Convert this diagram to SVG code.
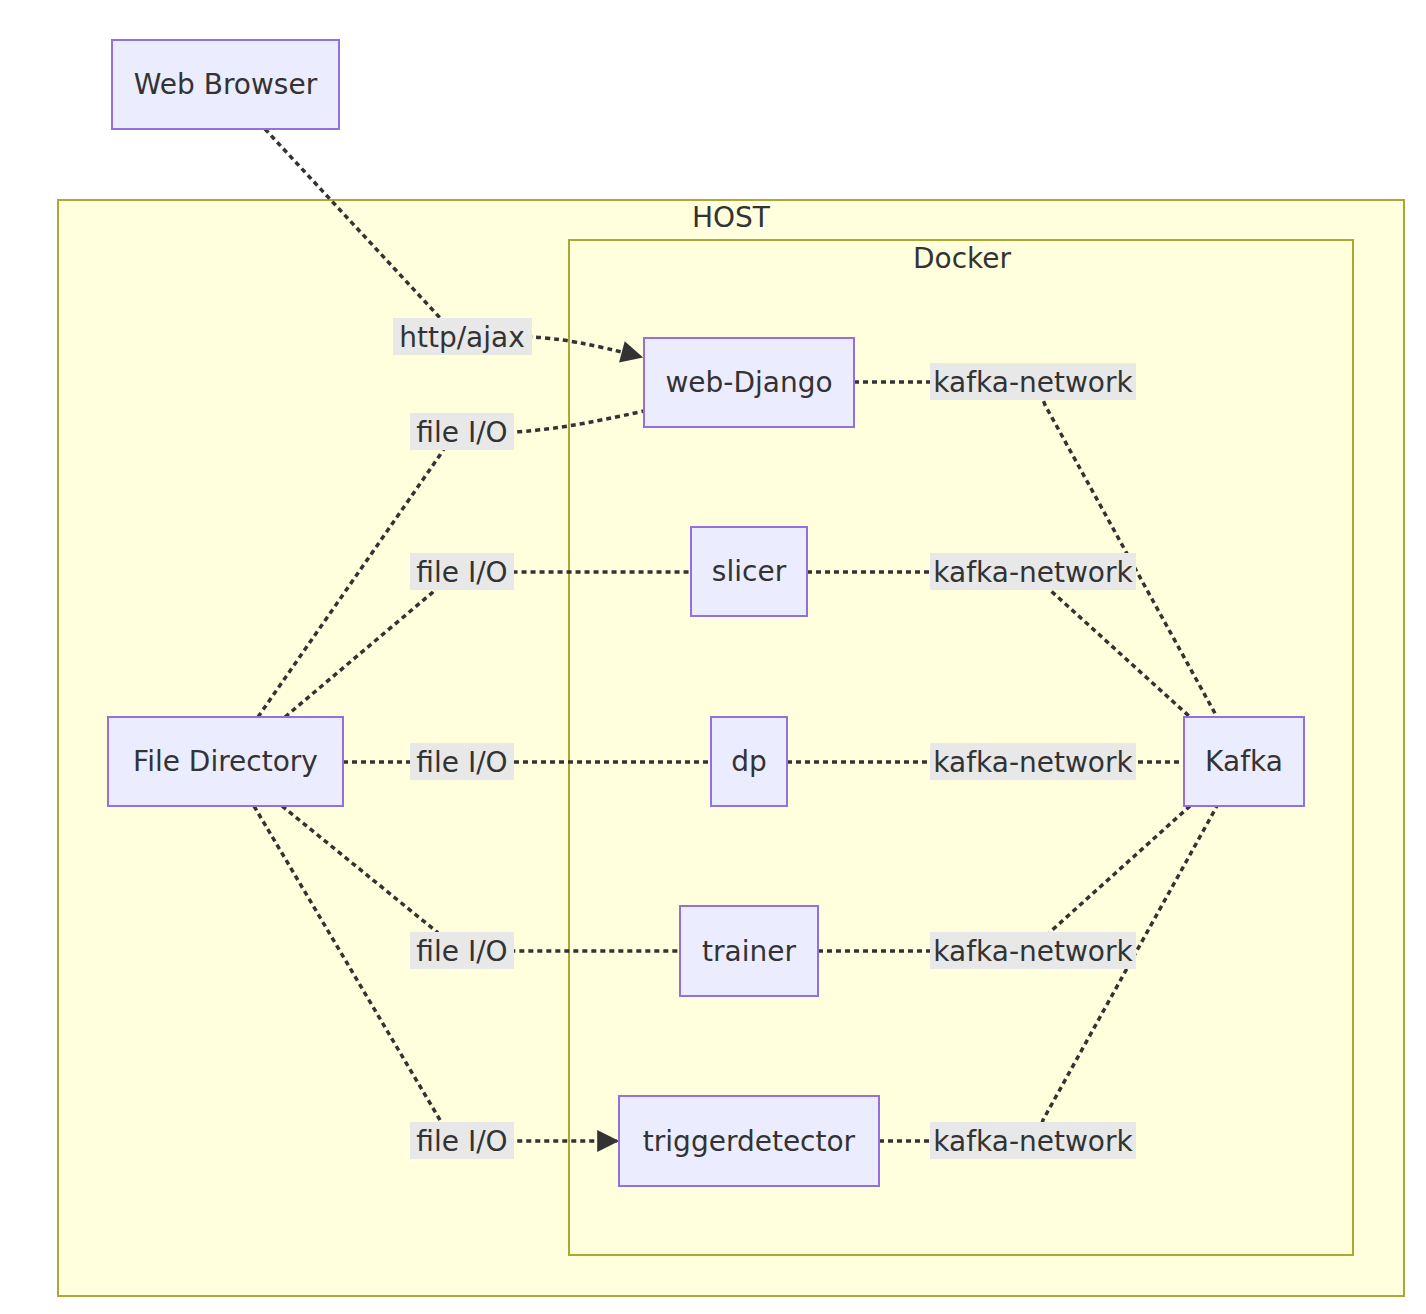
<svg xmlns="http://www.w3.org/2000/svg" width="1426" height="1314" viewBox="0 0 1426 1314">
<style>
.cluster{fill:#ffffde;stroke:#aaaa33;stroke-width:2}
.node rect{fill:#ececff;stroke:#9370db;stroke-width:2}
text{font-family:"DejaVu Sans",Verdana,sans-serif;font-size:28px;fill:#333;text-anchor:middle;dominant-baseline:central}
.edge{fill:none;stroke:#333;stroke-width:3.5;stroke-dasharray:5 4}
.lbl rect{fill:#e8e8e8}
</style>
<defs>
<marker id="arrow" viewBox="0 0 10 10" refX="9" refY="5" markerWidth="24" markerHeight="22" markerUnits="userSpaceOnUse" orient="auto">
<path d="M0,0 L10,5 L0,10 z" fill="#333"/>
</marker>
</defs>
<rect width="1426" height="1314" fill="#fff"/>
<g id="cluster-host">
<rect class="cluster" x="58" y="200" width="1346" height="1096"/>
<text x="731" y="217">HOST</text>
</g>
<g id="cluster-docker">
<rect class="cluster" x="569" y="240" width="784" height="1015"/>
<text x="962" y="258">Docker</text>
</g>
<g id="edges">
<path class="edge" d="M265,129 L442,320 Q455,337 480,337 L530,337 Q570,338 641,357" marker-end="url(#arrow)"/>
<path class="edge" d="M258,717 L440,455 Q452,432 480,432 L514,432 Q560,430 644,411"/>
<path class="edge" d="M285,717 L433,592 Q450,572 480,572 L691,572"/>
<path class="edge" d="M343,762 L711,762"/>
<path class="edge" d="M282,806 L437,932 Q450,951 480,951 L680,951"/>
<path class="edge" d="M254,806 L440,1120 Q450,1141 480,1141 L617,1141" marker-end="url(#arrow)"/>
<path class="edge" d="M854,382 L1020,382 Q1038,384 1045,405 L1217,717"/>
<path class="edge" d="M807,572 L1020,572 Q1040,572 1050,590 L1190,717"/>
<path class="edge" d="M787,762 L1184,762"/>
<path class="edge" d="M818,951 L1020,951 Q1040,951 1050,932 L1190,806"/>
<path class="edge" d="M879,1141 L1020,1141 Q1038,1139 1043,1120 L1217,806"/>
</g>
<g id="edge-labels">
<g class="lbl"><rect x="393" y="318" width="139" height="37"/><text x="462" y="337">http/ajax</text></g>
<g class="lbl"><rect x="410" y="413" width="104" height="37"/><text x="462" y="432">file I/O</text></g>
<g class="lbl"><rect x="410" y="553" width="104" height="37"/><text x="462" y="572">file I/O</text></g>
<g class="lbl"><rect x="410" y="743" width="104" height="37"/><text x="462" y="762">file I/O</text></g>
<g class="lbl"><rect x="410" y="932" width="104" height="37"/><text x="462" y="951">file I/O</text></g>
<g class="lbl"><rect x="410" y="1122" width="104" height="37"/><text x="462" y="1141">file I/O</text></g>
<g class="lbl"><rect x="930" y="363" width="206" height="37"/><text x="1033" y="382">kafka-network</text></g>
<g class="lbl"><rect x="930" y="553" width="206" height="37"/><text x="1033" y="572">kafka-network</text></g>
<g class="lbl"><rect x="930" y="743" width="206" height="37"/><text x="1033" y="762">kafka-network</text></g>
<g class="lbl"><rect x="930" y="932" width="206" height="37"/><text x="1033" y="951">kafka-network</text></g>
<g class="lbl"><rect x="930" y="1122" width="206" height="37"/><text x="1033" y="1141">kafka-network</text></g>
</g>
<g id="node-webbrowser" class="node"><rect x="112" y="40" width="227" height="89"/><text x="225.5" y="84.5">Web Browser</text></g>
<g id="node-webdjango" class="node"><rect x="644" y="338" width="210" height="89"/><text x="749" y="382.5">web-Django</text></g>
<g id="node-slicer" class="node"><rect x="691" y="527" width="116" height="89"/><text x="749" y="571.5">slicer</text></g>
<g id="node-dp" class="node"><rect x="711" y="717" width="76" height="89"/><text x="749" y="761.5">dp</text></g>
<g id="node-trainer" class="node"><rect x="680" y="906" width="138" height="90"/><text x="749" y="951">trainer</text></g>
<g id="node-triggerdetector" class="node"><rect x="619" y="1096" width="260" height="90"/><text x="749" y="1141">triggerdetector</text></g>
<g id="node-filedirectory" class="node"><rect x="108" y="717" width="235" height="89"/><text x="225.5" y="761.5">File Directory</text></g>
<g id="node-kafka" class="node"><rect x="1184" y="717" width="120" height="89"/><text x="1244" y="761.5">Kafka</text></g>
</svg>
